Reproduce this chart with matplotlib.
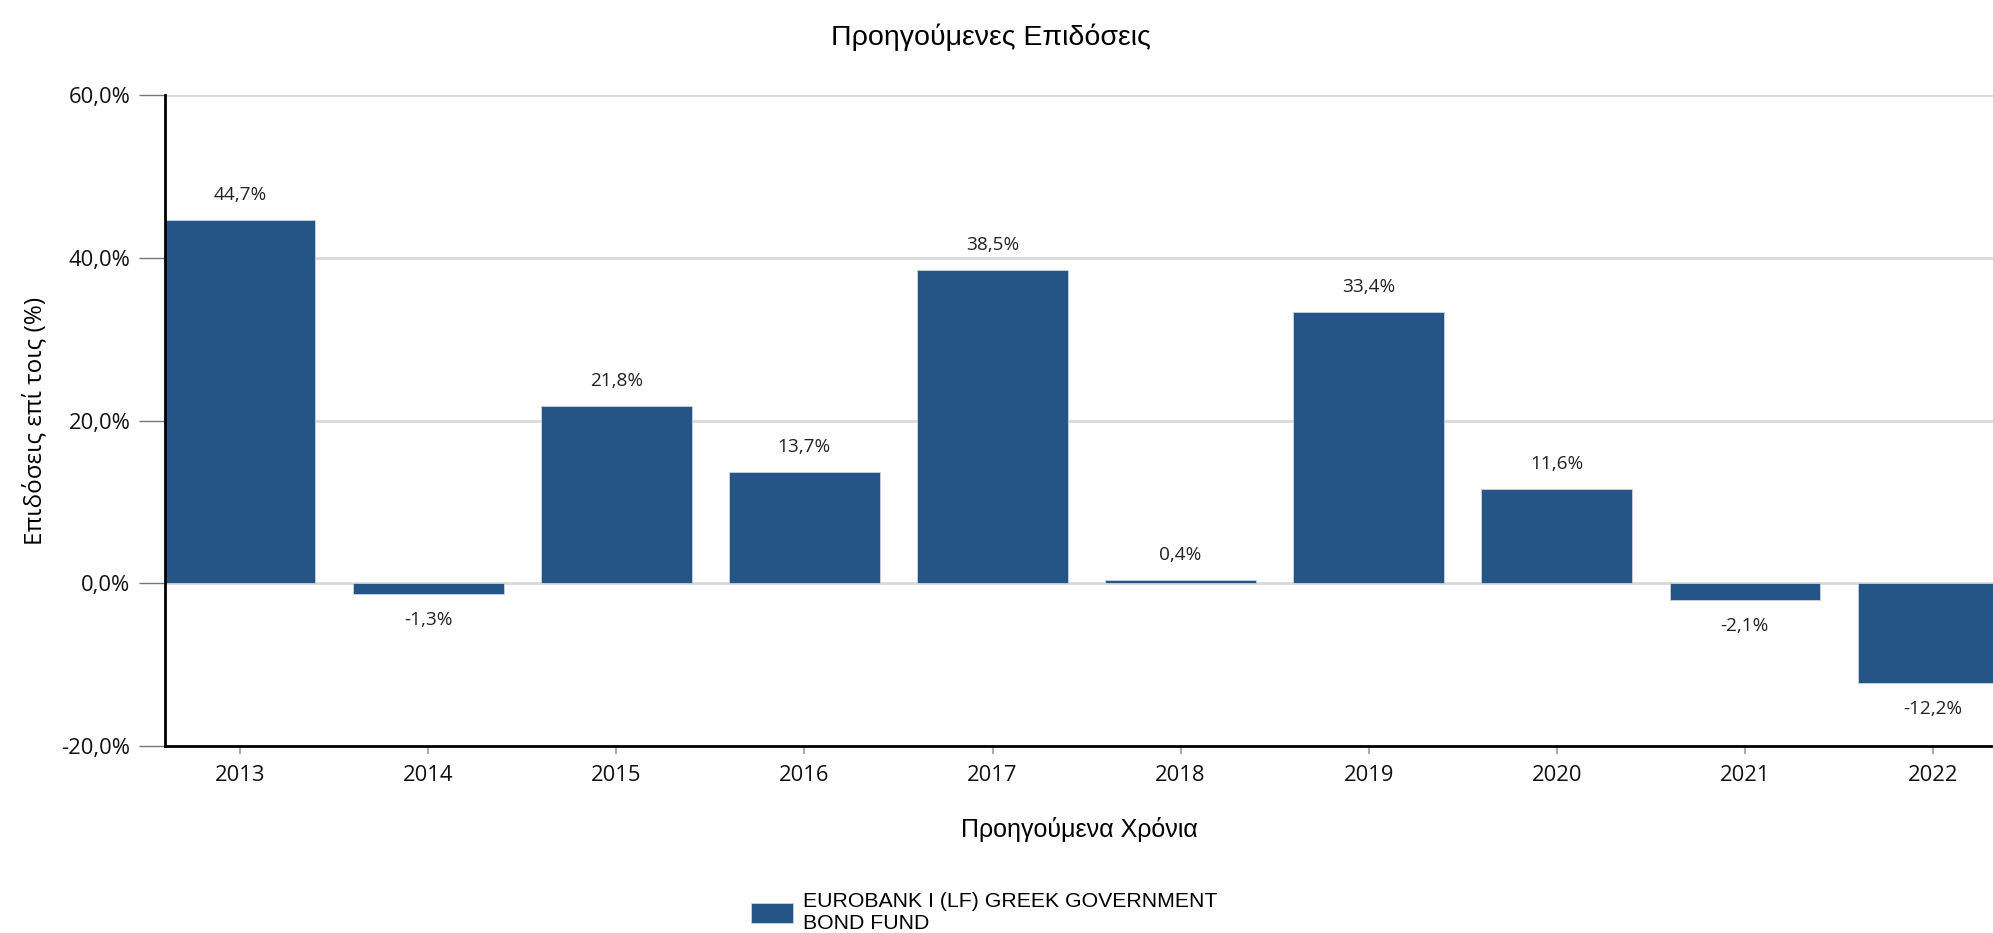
import matplotlib
matplotlib.use('Agg')
import matplotlib.pyplot as plt
from matplotlib.ticker import FuncFormatter

# data
years = ['2013', '2014', '2015', '2016', '2017', '2018', '2019', '2020', '2021', '2022']
returns = [44.7, -1.3, 21.8, 13.7, 38.5, 0.4, 33.4, 11.6, -2.1, -12.2]
y_ticks = [-20, 0, 20, 40, 60]
fund_name = 'EUROBANK I (LF) GREEK GOVERNMENT\nBOND FUND'

bar_color = '#245586'
num_font = 'Open Sans'
txt_font = 'Liberation Sans'

def pct(v):
    return f'{v:.1f}'.replace('.', ',') + '%'

fig = plt.figure(figsize=(19.93, 9.33), dpi=100)
ax = fig.add_axes([0.0828, 0.2004, 1 - 0.0828, 0.8979 - 0.2004])

x = list(range(len(years)))
bars = ax.bar(x, returns, width=0.8, color=bar_color, edgecolor='#c8d3e0',
              linewidth=0.6, zorder=3, label=fund_name)

# value labels above / below each bar
for xi, v in zip(x, returns):
    off = 25 if v >= 0 else -26
    ax.annotate(pct(v), (xi, v), xytext=(0, off), textcoords='offset pixels',
                ha='center', va='center', fontsize=13.7, family=num_font, color='#222222')

ax.set_xlim(-0.4, 9.32)
ax.set_ylim(-20, 60)
ax.set_yticks(y_ticks)
ax.yaxis.set_major_formatter(FuncFormatter(lambda v, p: pct(v)))
ax.set_xticks(x)
ax.set_xticklabels(years)

# light horizontal grid
for t in y_ticks[1:]:
    ax.axhline(t, color='#d9d9d9', linewidth=2, zorder=1)

for s in ['top', 'right']:
    ax.spines[s].set_visible(False)
ax.spines['left'].set_linewidth(2)
ax.spines['bottom'].set_linewidth(2)
ax.spines['left'].set_zorder(4)

ax.tick_params(axis='y', length=19, width=1, color='#777777', pad=6)
ax.tick_params(axis='x', length=6, width=1.5, color='#aaaaaa', pad=8)
for lbl in ax.get_yticklabels() + ax.get_xticklabels():
    lbl.set_fontfamily(num_font)
    lbl.set_fontsize(15.8)
    lbl.set_color('#111111')

ax.set_ylabel('Επιδόσεις επί τοις (%)', family=num_font, fontsize=17.5, labelpad=10)
ax.set_xlabel('Προηγούμενα Χρόνια', family=txt_font, fontsize=18, labelpad=22)

fig.suptitle('Προηγούμενες Επιδόσεις', family=txt_font, fontsize=20.5, y=0.975, x=0.497)

fig.legend(handles=[bars], labels=[fund_name], loc='center left',
           bbox_to_anchor=(0.367, 0.022), frameon=False, prop={'family': txt_font, 'size': 15.3},
           handlelength=2.0, handleheight=1.1, handletextpad=0.45, labelspacing=0.2)

fig.savefig('out.png', dpi=100)
